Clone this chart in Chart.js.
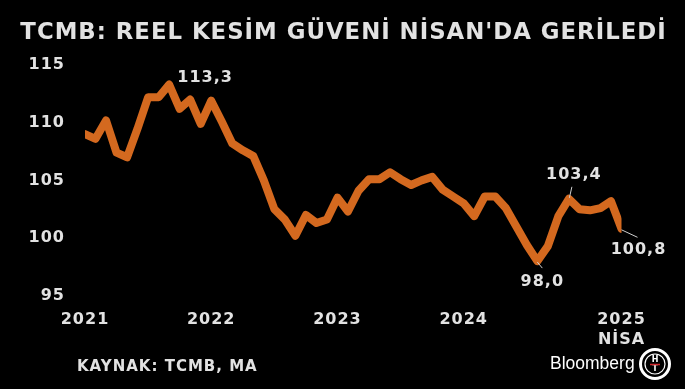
<!DOCTYPE html>
<html lang="tr">
<head>
<meta charset="utf-8">
<title>TCMB: Reel Kesim Güveni</title>
<script src="https://cdn.jsdelivr.net/npm/chart.js@4.4.1/dist/chart.umd.min.js"></script>
<style>
  html, body { margin: 0; padding: 0; background: #000; }
  #wrap { width: 685px; height: 389px; }
</style>
</head>
<body>
<div id="wrap"><canvas id="chart" width="685" height="389"></canvas></div>
<script>
// Reel kesim güven endeksi (MA), Ocak 2021 - Nisan 2025, monthly
const values2021 = [109.0, 108.6, 110.2, 107.4, 107.0, 109.5, 112.2, 112.2, 113.3, 111.2, 112.0, 109.9];
const values2022 = [111.9, 110.1, 108.2, 107.6, 107.1, 105.0, 102.5, 101.6, 100.2, 102.0, 101.3, 101.6];
const values2023 = [103.5, 102.3, 104.1, 105.1, 105.1, 105.7, 105.1, 104.6, 105.0, 105.3, 104.2, 103.6];
const values2024 = [103.0, 101.9, 103.6, 103.6, 102.6, 101.0, 99.4, 98.0, 99.3, 101.9, 103.4, 102.5];
const values2025 = [102.4, 102.6, 103.2, 100.8];

// x axis: month index of each tick and its label
const tickMonths = [0, 12, 24, 36, 51];
const tickLabels = ['2021', '2022', '2023', '2024', ['2025', 'NİSA']];
const yTicks = [95, 100, 105, 110, 115];

// highlighted points: month index and label text
const noteMonths = [8, 46, 43, 51];
const noteTexts = ['113,3', '103,4', '98,0', '100,8'];

const titleText = "TCMB: REEL KESİM GÜVENİ NİSAN'DA GERİLEDİ";
const sourceText = 'KAYNAK: TCMB, MA';

const values = [].concat(values2021, values2022, values2023, values2024, values2025);
const points = values.map((v, i) => ({ x: i, y: v }));

const textColor = '#e2e2e2';
const lineColor = '#d4691f';

// label offsets (px) from the point, and leader lines
const noteStyle = [
  { dx: 36, dy: -7, leader: null },
  { dx: 5, dy: -24, leader: [0.5, -1, 3, -12] },
  { dx: 5, dy: 21, leader: [0, 1, 5, 7] },
  { dx: 17, dy: 21, leader: [0, 1, 16, 8.5] }
];

const spacing = {
  id: 'spacing',
  beforeDraw(chart) {
    chart.ctx.letterSpacing = '1px';
  }
};

const header = {
  id: 'header',
  beforeDraw(chart) {
    const ctx = chart.ctx;
    ctx.save();
    ctx.letterSpacing = '1px';
    ctx.fillStyle = textColor;
    ctx.font = 'bold 22.8px "DejaVu Sans"';
    ctx.textAlign = 'center';
    ctx.textBaseline = 'middle';
    ctx.fillText(titleText, 343.5, 33);
    ctx.restore();
  }
};

const notes = {
  id: 'notes',
  afterDatasetsDraw(chart) {
    const ctx = chart.ctx;
    const xs = chart.scales.x, ys = chart.scales.y;
    ctx.save();
    ctx.letterSpacing = '1px';
    ctx.fillStyle = textColor;
    ctx.strokeStyle = '#cfcfcf';
    ctx.lineWidth = 1;
    ctx.font = 'bold 16px "DejaVu Sans"';
    ctx.textAlign = 'center';
    ctx.textBaseline = 'middle';
    noteMonths.forEach((m, k) => {
      const px = xs.getPixelForValue(m);
      const py = ys.getPixelForValue(values[m]);
      const st = noteStyle[k];
      if (st.leader) {
        const l = st.leader;
        ctx.beginPath();
        ctx.moveTo(px + l[0], py + l[1]);
        ctx.lineTo(px + l[2], py + l[3]);
        ctx.stroke();
      }
      ctx.fillText(noteTexts[k], px + st.dx, py + st.dy);
    });
    ctx.restore();
  }
};

const footer = {
  id: 'footer',
  afterDraw(chart) {
    const ctx = chart.ctx;
    ctx.save();
    ctx.letterSpacing = '1px';
    ctx.fillStyle = textColor;
    ctx.font = 'bold 15px "DejaVu Sans"';
    ctx.textAlign = 'left';
    ctx.textBaseline = 'middle';
    ctx.fillText(sourceText, 77, 367);

    ctx.letterSpacing = '0px';
    ctx.fillStyle = '#ffffff';
    ctx.font = '17.5px "Liberation Sans"';
    ctx.fillText('Bloomberg', 550, 364);

    // HT logo
    const cx = 655, cy = 364;
    ctx.strokeStyle = '#ffffff';
    ctx.lineWidth = 3;
    ctx.beginPath();
    ctx.arc(cx, cy, 14.5, 0, Math.PI * 2);
    ctx.stroke();
    ctx.lineWidth = 1.2;
    ctx.beginPath();
    ctx.arc(cx, cy, 10, 0, Math.PI * 2);
    ctx.stroke();
    ctx.font = 'bold 8px "DejaVu Sans"';
    ctx.textAlign = 'center';
    ctx.fillText('H', cx, cy - 4.5);
    ctx.fillText('T', cx, cy + 5);
    ctx.strokeStyle = '#d0262b';
    ctx.lineWidth = 1.5;
    ctx.beginPath();
    ctx.moveTo(cx - 5, cy + 0.5);
    ctx.lineTo(cx + 5, cy + 0.5);
    ctx.stroke();
    ctx.restore();
  }
};

new Chart(document.getElementById('chart'), {
  type: 'line',
  data: {
    datasets: [{
      data: points,
      borderColor: lineColor,
      borderWidth: 8,
      borderJoinStyle: 'round',
      borderCapStyle: 'round',
      pointRadius: 0,
      tension: 0,
      fill: false
    }]
  },
  options: {
    responsive: false,
    animation: false,
    layout: { padding: { left: 0, right: 63.5, top: 65, bottom: 0 } },
    scales: {
      x: {
        type: 'linear',
        min: 0,
        max: values.length - 1,
        afterBuildTicks: scale => { scale.ticks = tickMonths.map(v => ({ value: v })); },
        afterFit: scale => { scale.height = 93.3; },
        ticks: {
          autoSkip: false,
          maxRotation: 0,
          padding: 14,
          color: textColor,
          font: { family: '"DejaVu Sans"', weight: 'bold', size: 16, lineHeight: 1.25 },
          callback: v => tickLabels[tickMonths.indexOf(v)]
        },
        grid: { display: false, drawTicks: false },
        border: { display: false }
      },
      y: {
        min: 95,
        max: 115,
        afterBuildTicks: scale => { scale.ticks = yTicks.map(v => ({ value: v })); },
        afterFit: scale => { scale.width = 85; },
        ticks: {
          padding: 20,
          color: textColor,
          font: { family: '"DejaVu Sans"', weight: 'bold', size: 16 }
        },
        grid: { display: false, drawTicks: false },
        border: { display: false }
      }
    },
    plugins: {
      legend: { display: false },
      tooltip: { enabled: false },
      title: { display: false }
    }
  },
  plugins: [spacing, header, notes, footer]
});
</script>
</body>
</html>
